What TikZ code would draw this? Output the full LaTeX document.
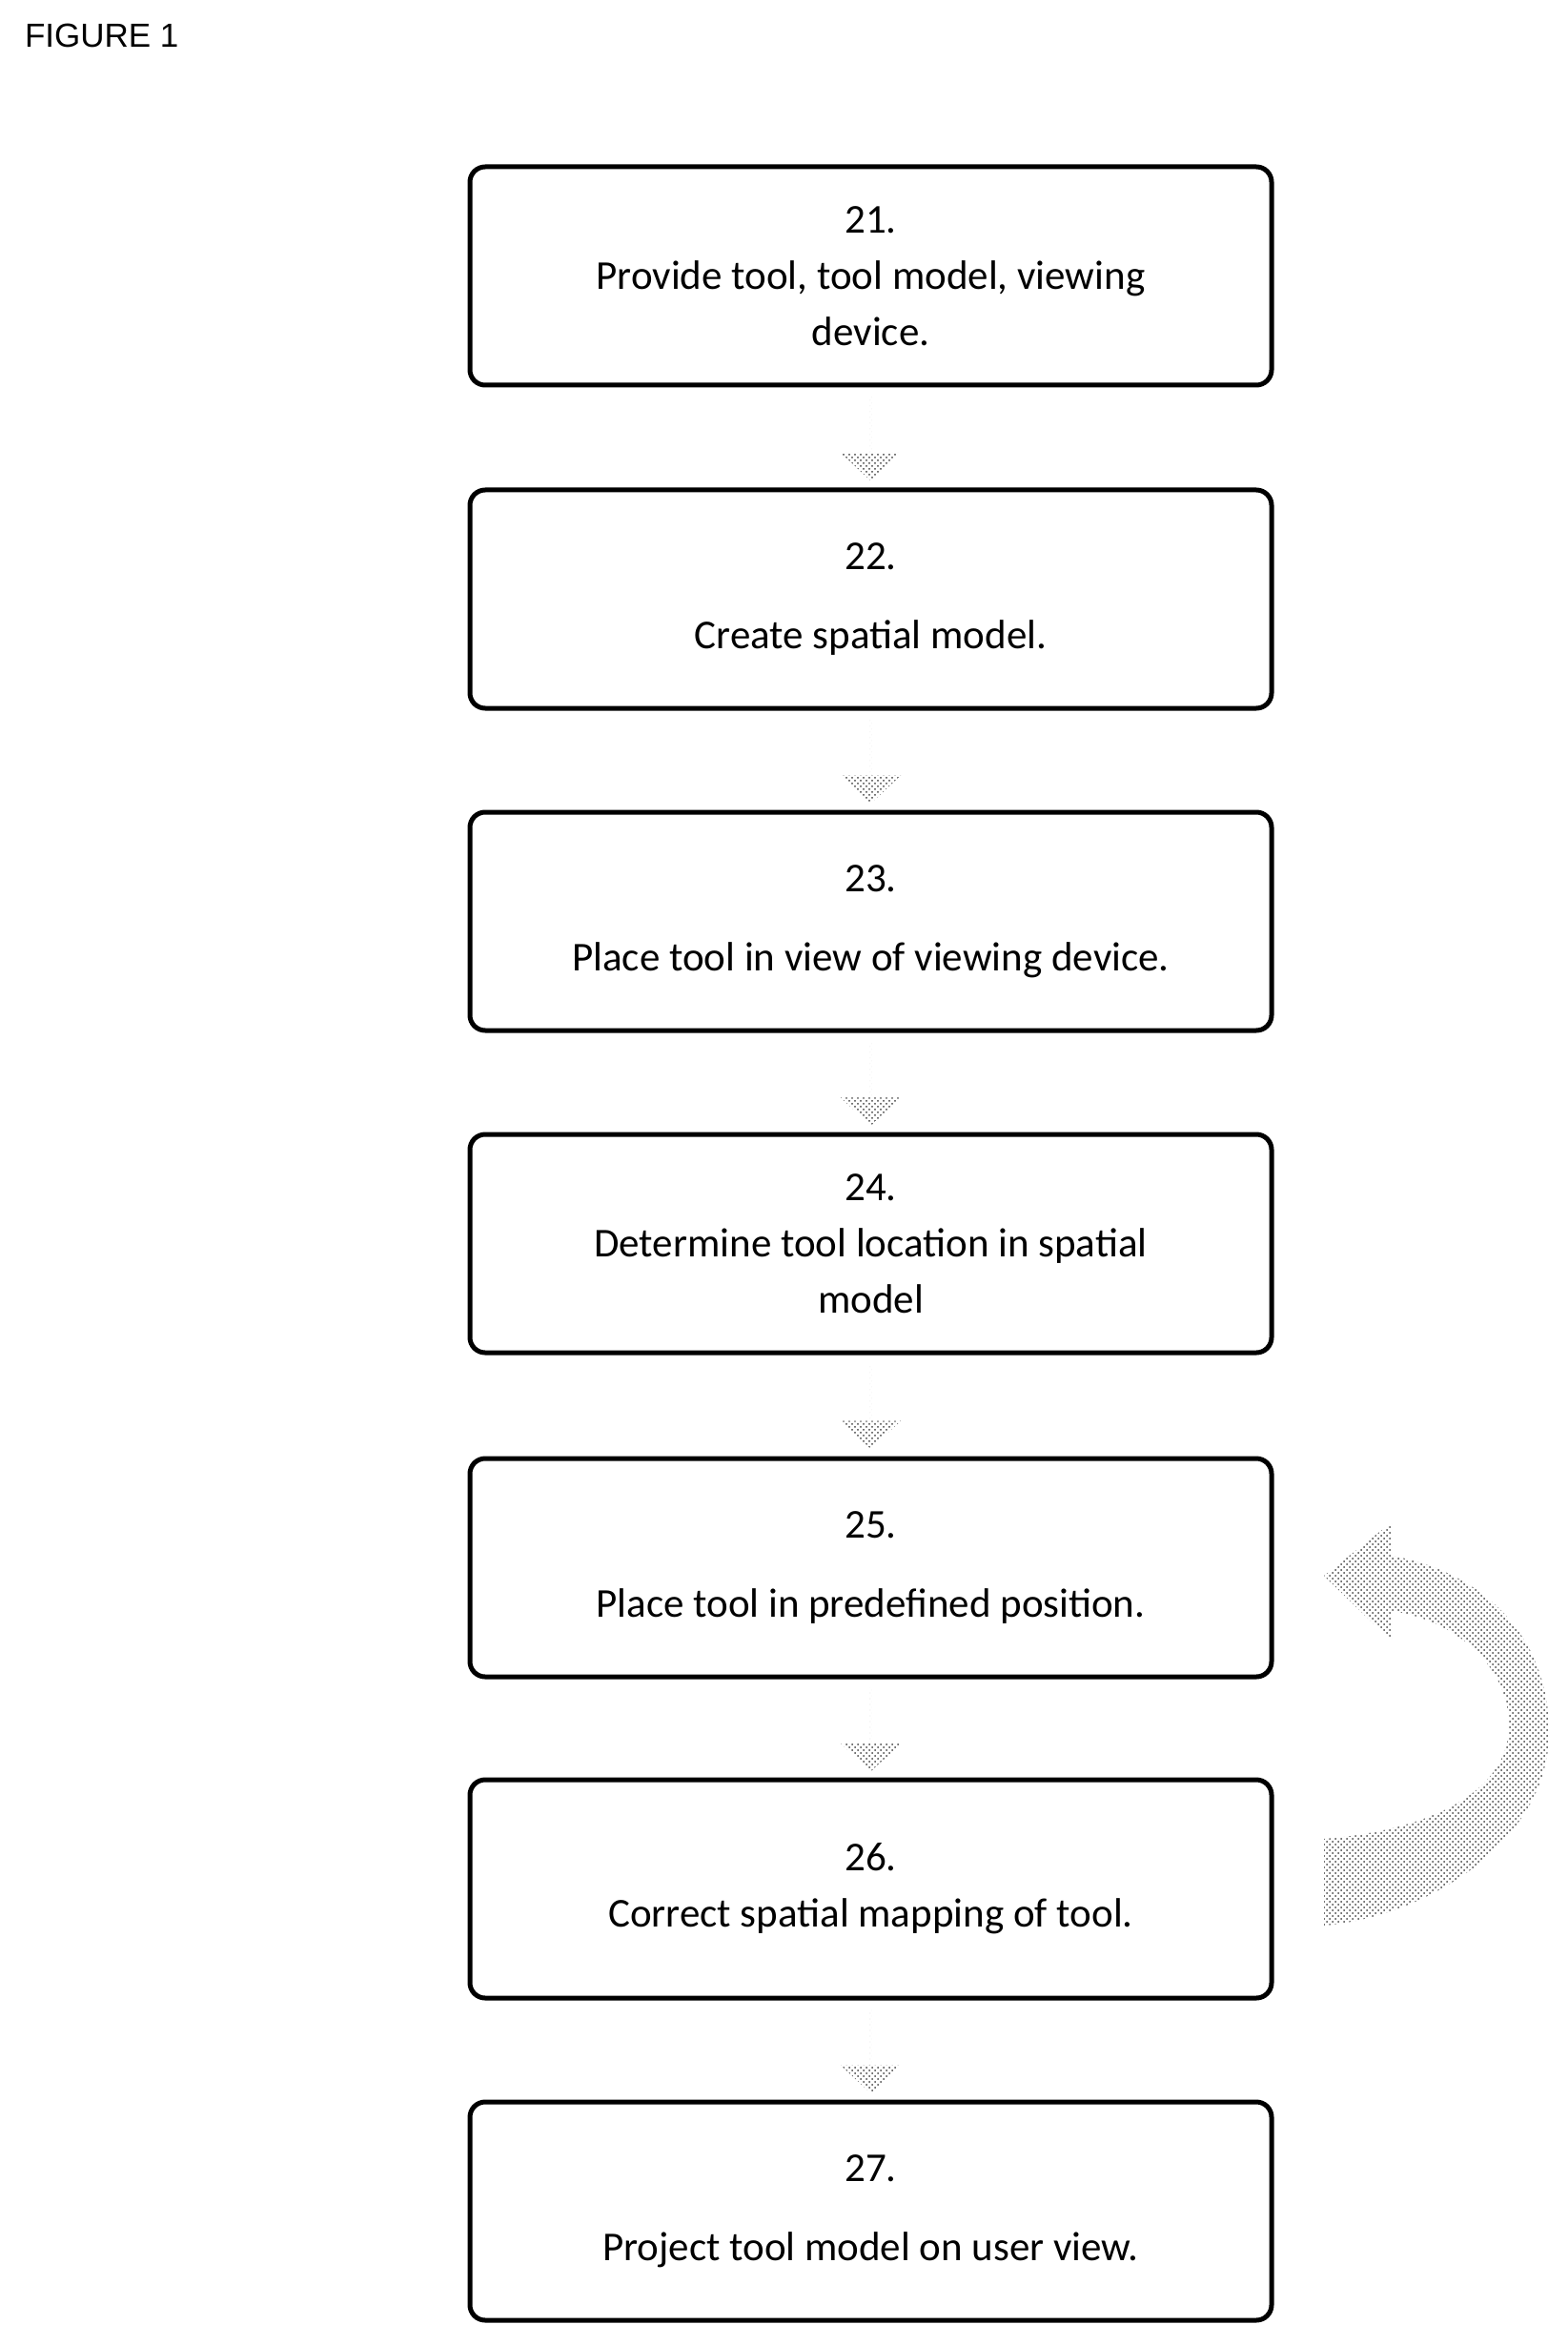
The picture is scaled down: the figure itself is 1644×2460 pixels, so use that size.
\documentclass[tikz,border=0pt]{standalone}
\usepackage{fontspec}
\setmainfont{Carlito}
\newfontfamily\arialf{Liberation Sans}
\usetikzlibrary{shapes.arrows,patterns}
\begin{document}
\begin{tikzpicture}[x=0.5pt,y=-0.5pt,
  box/.style={draw=black,line width=2.5pt,rounded corners=8pt,minimum width=420.5pt,minimum height=114.5pt,align=center,font=\fontsize{21.5}{29.5}\selectfont,inner sep=0pt},
  fat/.style={single arrow,rotate=-90,draw=none,pattern=crosshatch dots,pattern color=black!75,minimum height=44pt,minimum width=31.5pt,single arrow head extend=9pt,single arrow tip angle=94,inner sep=0pt,anchor=center}]
\useasboundingbox (0,0) rectangle (1644,2460);
\node[anchor=base west,font=\arialf\fontsize{17.5}{20}\selectfont] (title) at (19,50) {FIGURE 1};
\node[box] (b21) at (913.5,289.5) {21.\\Provide tool, tool model, viewing\\device.};
\node[box] (b22) at (913.5,628.5) {22.\\[12pt]Create spatial model.};
\node[box] (b23) at (913.5,966.5) {23.\\[12pt]Place tool in view of viewing device.};
\node[box] (b24) at (913.5,1304.5) {24.\\Determine tool location in spatial\\model};
\node[box] (b25) at (913.5,1644.5) {25.\\[12pt]Place tool in predefined position.};
\node[box] (b26) at (913.5,1981.5) {26.\\Correct spatial mapping of tool.};
\node[box] (b27) at (913.5,2319.5) {27.\\[12pt]Project tool model on user view.};
\foreach \a/\b in {b21/b22,b22/b23,b23/b24,b24/b25,b25/b26,b26/b27}
  \path (\a.south) -- node[fat,pos=0.51]{} (\b.north);
\fill[pattern=crosshatch dots,pattern color=black!75]
 (1389,1653) -- (1460,1597) -- (1460,1632) .. controls (1560,1650) and (1625,1720) .. (1625,1817)
 .. controls (1625,1930) and (1500,2010) .. (1389,2020) -- (1389,1929)
 .. controls (1500,1920) and (1583,1880) .. (1583,1810)
 .. controls (1583,1750) and (1530,1700) .. (1460,1690) -- (1460,1722) -- cycle;
\end{tikzpicture}
\end{document}
